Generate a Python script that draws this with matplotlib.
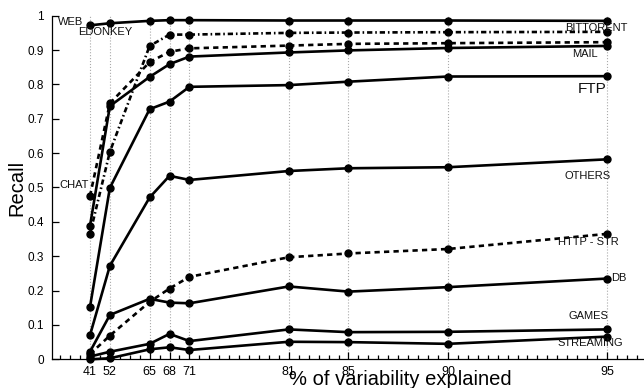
import matplotlib
matplotlib.use("Agg")
import matplotlib.pyplot as plt
from matplotlib.ticker import FixedLocator, MultipleLocator, FuncFormatter

plt.rcParams['font.family'] = ['Liberation Sans', 'DejaVu Sans']

# number of principal components kept, and the % of variability they explain
n_components = [2, 3, 5, 6, 7, 12, 15, 20, 28]
pct_labels = [41, 52, 65, 68, 71, 81, 85, 90, 95]

# recall per application class
web = [0.972, 0.978, 0.985, 0.987, 0.987, 0.986, 0.986, 0.986, 0.985]
edonkey = [0.475, 0.745, 0.865, 0.895, 0.905, 0.913, 0.918, 0.920, 0.923]
bittorrent = [0.365, 0.604, 0.912, 0.945, 0.945, 0.950, 0.951, 0.952, 0.953]
mail = [0.388, 0.737, 0.822, 0.859, 0.881, 0.893, 0.899, 0.906, 0.912]
ftp = [0.152, 0.499, 0.728, 0.750, 0.793, 0.798, 0.808, 0.823, 0.824]
others = [0.070, 0.272, 0.471, 0.534, 0.522, 0.548, 0.556, 0.559, 0.582]
http_str = [0.015, 0.069, 0.167, 0.206, 0.240, 0.297, 0.308, 0.321, 0.365]
db = [0.022, 0.129, 0.176, 0.165, 0.163, 0.212, 0.197, 0.210, 0.235]
games = [0.008, 0.022, 0.045, 0.074, 0.053, 0.087, 0.079, 0.080, 0.087]
streaming = [0.000, 0.003, 0.029, 0.035, 0.027, 0.051, 0.050, 0.045, 0.066]

DASHED = (0, (2.0, 1.6))
DASHDOT = (0, (2.0, 1.1, 0.6, 1.1))

series = [
    (web, '-'),
    (edonkey, DASHED),
    (bittorrent, DASHDOT),
    (mail, '-'),
    (ftp, '-'),
    (others, '-'),
    (http_str, DASHED),
    (db, '-'),
    (games, '-'),
    (streaming, '-'),
]

# class names written next to the curves: (text, x, y, size)
labels = [
    ('WEB', 0.39, 0.982, 8),
    ('EDONKEY', 1.40, 0.953, 8),
    ('CHAT', 0.44, 0.506, 8),
    ('BITTORENT', 25.89, 0.964, 8),
    ('MAIL', 26.24, 0.889, 8),
    ('FTP', 26.55, 0.788, 11),
    ('OTHERS', 25.84, 0.533, 8),
    ('HTTP - STR', 25.54, 0.340, 8),
    ('DB', 28.2, 0.238, 8),
    ('GAMES', 26.04, 0.127, 8),
    ('STREAMING', 25.49, 0.046, 8),
]

fig = plt.figure(figsize=(6.44, 3.88), dpi=100)
ax = fig.add_axes([52 / 644, 28.7 / 388, 592 / 644, 343.6 / 388])

for values, ls in series:
    ax.plot(n_components, values, color='black', linestyle=ls, linewidth=1.9,
            marker='o', markersize=5, clip_on=False, zorder=3)

for text, x, y, size in labels:
    ax.text(x, y, text, fontsize=size, ha='left', va='center', color='#111111', zorder=4)

ax.set_xlim(0.09, 29.86)
ax.set_ylim(0, 1)

ax.xaxis.set_major_locator(FixedLocator(n_components))
ax.set_xticklabels([str(p) for p in pct_labels])
ax.xaxis.set_minor_locator(MultipleLocator(0.5))
ax.yaxis.set_major_locator(MultipleLocator(0.1))
ax.yaxis.set_major_formatter(FuncFormatter(lambda v, pos: f"{v:g}"))

ax.tick_params(axis='both', which='both', direction='in', width=0.9)
ax.tick_params(axis='x', which='major', length=5, pad=5, labelsize=9)
ax.tick_params(axis='x', which='minor', length=3)
ax.tick_params(axis='y', which='major', length=5, pad=6, labelsize=8.5)

ax.grid(axis='x', which='major', linestyle=':', color='#aaaaaa', linewidth=0.8)
ax.set_axisbelow(True)

for side in ['top', 'right']:
    ax.spines[side].set_visible(False)
for side in ['left', 'bottom']:
    ax.spines[side].set_linewidth(0.9)

ax.set_ylabel('Recall', fontsize=14.5)
ax.yaxis.set_label_coords(-26 / 592, 0.5)
fig.text(400 / 644, 3 / 388, '% of variability explained', fontsize=14.5,
         ha='center', va='baseline')

fig.savefig('out.png', dpi=100)
